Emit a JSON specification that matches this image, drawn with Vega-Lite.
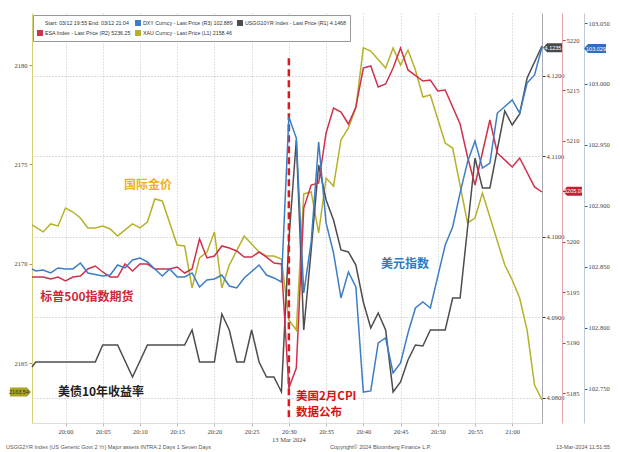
{
  "$schema": "https://vega.github.io/schema/vega-lite/v6.json",
  "width": 510,
  "height": 410,
  "autosize": {"type": "none"},
  "padding": {"left": 32, "top": 13, "right": 78, "bottom": 29},
  "background": "white",
  "config": {
    "view": {"stroke": null},
    "axis": {"labelFont": "Liberation Sans Narrow", "labelFontSize": 6.5, "labelColor": "#444", "title": null}
  },
  "datasets": {
    "xau": [
      {"t": "2024-03-12T19:55:30Z", "v": 2171.95}, {"t": "2024-03-12T19:57:00Z", "v": 2171.60}, {"t": "2024-03-12T19:58:00Z", "v": 2172.00},
      {"t": "2024-03-12T19:59:00Z", "v": 2171.90}, {"t": "2024-03-12T20:00:00Z", "v": 2172.80}, {"t": "2024-03-12T20:01:00Z", "v": 2172.60},
      {"t": "2024-03-12T20:02:00Z", "v": 2172.30}, {"t": "2024-03-12T20:03:00Z", "v": 2171.80}, {"t": "2024-03-12T20:04:00Z", "v": 2171.80},
      {"t": "2024-03-12T20:05:00Z", "v": 2171.90}, {"t": "2024-03-12T20:06:00Z", "v": 2171.75}, {"t": "2024-03-12T20:07:00Z", "v": 2171.39},
      {"t": "2024-03-12T20:08:00Z", "v": 2171.70}, {"t": "2024-03-12T20:09:00Z", "v": 2172.00}, {"t": "2024-03-12T20:10:00Z", "v": 2171.80},
      {"t": "2024-03-12T20:11:00Z", "v": 2172.10}, {"t": "2024-03-12T20:12:00Z", "v": 2173.26}, {"t": "2024-03-12T20:13:00Z", "v": 2173.16},
      {"t": "2024-03-12T20:14:00Z", "v": 2172.05}, {"t": "2024-03-12T20:15:00Z", "v": 2170.94}, {"t": "2024-03-12T20:16:00Z", "v": 2170.89},
      {"t": "2024-03-12T20:17:00Z", "v": 2168.78}, {"t": "2024-03-12T20:18:00Z", "v": 2170.29}, {"t": "2024-03-12T20:19:00Z", "v": 2170.59},
      {"t": "2024-03-12T20:20:00Z", "v": 2171.60}, {"t": "2024-03-12T20:21:00Z", "v": 2168.78}, {"t": "2024-03-12T20:22:00Z", "v": 2169.93},
      {"t": "2024-03-12T20:24:00Z", "v": 2171.39}, {"t": "2024-03-12T20:26:00Z", "v": 2170.59}, {"t": "2024-03-12T20:27:00Z", "v": 2170.39},
      {"t": "2024-03-12T20:28:00Z", "v": 2170.39}, {"t": "2024-03-12T20:29:00Z", "v": 2170.24}, {"t": "2024-03-12T20:30:00Z", "v": 2167.17},
      {"t": "2024-03-12T20:31:00Z", "v": 2166.66}, {"t": "2024-03-12T20:32:00Z", "v": 2173.51}, {"t": "2024-03-12T20:33:00Z", "v": 2173.61},
      {"t": "2024-03-12T20:34:00Z", "v": 2171.55}, {"t": "2024-03-12T20:35:00Z", "v": 2174.31}, {"t": "2024-03-12T20:36:00Z", "v": 2173.91},
      {"t": "2024-03-12T20:37:00Z", "v": 2176.23}, {"t": "2024-03-12T20:38:00Z", "v": 2176.83}, {"t": "2024-03-12T20:39:00Z", "v": 2177.84},
      {"t": "2024-03-12T20:40:00Z", "v": 2180.86}, {"t": "2024-03-12T20:41:00Z", "v": 2180.70}, {"t": "2024-03-12T20:43:00Z", "v": 2179.85},
      {"t": "2024-03-12T20:44:00Z", "v": 2180.86}, {"t": "2024-03-12T20:45:00Z", "v": 2180.00}, {"t": "2024-03-12T20:46:00Z", "v": 2180.75},
      {"t": "2024-03-12T20:47:00Z", "v": 2179.75}, {"t": "2024-03-12T20:48:00Z", "v": 2178.39}, {"t": "2024-03-12T20:49:00Z", "v": 2178.49},
      {"t": "2024-03-12T20:51:00Z", "v": 2176.07}, {"t": "2024-03-12T20:52:00Z", "v": 2175.82}, {"t": "2024-03-12T20:54:00Z", "v": 2172.05},
      {"t": "2024-03-12T20:55:00Z", "v": 2172.30}, {"t": "2024-03-12T20:56:00Z", "v": 2173.56}, {"t": "2024-03-12T20:57:00Z", "v": 2172.35},
      {"t": "2024-03-12T20:59:00Z", "v": 2169.93}, {"t": "2024-03-12T21:00:00Z", "v": 2169.18}, {"t": "2024-03-12T21:01:00Z", "v": 2168.27},
      {"t": "2024-03-12T21:02:00Z", "v": 2166.66}, {"t": "2024-03-12T21:03:00Z", "v": 2163.89}, {"t": "2024-03-12T21:04:00Z", "v": 2163.14}
    ],
    "dxy": [
      {"t": "2024-03-12T19:55:30Z", "v": 102.8484}, {"t": "2024-03-12T19:56:00Z", "v": 102.8467}, {"t": "2024-03-12T19:57:00Z", "v": 102.8475},
      {"t": "2024-03-12T19:58:00Z", "v": 102.8451}, {"t": "2024-03-12T19:59:00Z", "v": 102.8492}, {"t": "2024-03-12T20:00:00Z", "v": 102.8484},
      {"t": "2024-03-12T20:01:00Z", "v": 102.8484}, {"t": "2024-03-12T20:02:00Z", "v": 102.8533}, {"t": "2024-03-12T20:03:00Z", "v": 102.8451},
      {"t": "2024-03-12T20:05:00Z", "v": 102.8426}, {"t": "2024-03-12T20:06:00Z", "v": 102.8434}, {"t": "2024-03-12T20:07:00Z", "v": 102.8516},
      {"t": "2024-03-12T20:08:00Z", "v": 102.8492}, {"t": "2024-03-12T20:09:00Z", "v": 102.8557}, {"t": "2024-03-12T20:10:00Z", "v": 102.8574},
      {"t": "2024-03-12T20:11:00Z", "v": 102.8541}, {"t": "2024-03-12T20:12:00Z", "v": 102.8484}, {"t": "2024-03-12T20:13:00Z", "v": 102.8426},
      {"t": "2024-03-12T20:14:00Z", "v": 102.8484}, {"t": "2024-03-12T20:15:00Z", "v": 102.8418}, {"t": "2024-03-12T20:16:00Z", "v": 102.8418},
      {"t": "2024-03-12T20:17:00Z", "v": 102.8451}, {"t": "2024-03-12T20:18:00Z", "v": 102.8336}, {"t": "2024-03-12T20:19:00Z", "v": 102.8393},
      {"t": "2024-03-12T20:20:00Z", "v": 102.8402}, {"t": "2024-03-12T20:21:00Z", "v": 102.8434}, {"t": "2024-03-12T20:22:00Z", "v": 102.8344},
      {"t": "2024-03-12T20:23:00Z", "v": 102.8328}, {"t": "2024-03-12T20:24:00Z", "v": 102.8410}, {"t": "2024-03-12T20:26:00Z", "v": 102.8516},
      {"t": "2024-03-12T20:27:00Z", "v": 102.8434}, {"t": "2024-03-12T20:28:00Z", "v": 102.8410}, {"t": "2024-03-12T20:29:00Z", "v": 102.8377},
      {"t": "2024-03-12T20:30:00Z", "v": 102.9730}, {"t": "2024-03-12T20:31:00Z", "v": 102.9557}, {"t": "2024-03-12T20:32:00Z", "v": 102.8287},
      {"t": "2024-03-12T20:33:00Z", "v": 102.8705}, {"t": "2024-03-12T20:34:00Z", "v": 102.9525}, {"t": "2024-03-12T20:35:00Z", "v": 102.8861},
      {"t": "2024-03-12T20:36:00Z", "v": 102.8615}, {"t": "2024-03-12T20:37:00Z", "v": 102.8246}, {"t": "2024-03-12T20:38:00Z", "v": 102.8459},
      {"t": "2024-03-12T20:39:00Z", "v": 102.8336}, {"t": "2024-03-12T20:40:00Z", "v": 102.7475}, {"t": "2024-03-12T20:41:00Z", "v": 102.7484},
      {"t": "2024-03-12T20:42:00Z", "v": 102.7877}, {"t": "2024-03-12T20:43:00Z", "v": 102.7918}, {"t": "2024-03-12T20:44:00Z", "v": 102.7631},
      {"t": "2024-03-12T20:45:00Z", "v": 102.7713}, {"t": "2024-03-12T20:46:00Z", "v": 102.7959}, {"t": "2024-03-12T20:47:00Z", "v": 102.8164},
      {"t": "2024-03-12T20:48:00Z", "v": 102.8213}, {"t": "2024-03-12T20:49:00Z", "v": 102.8164}, {"t": "2024-03-12T20:51:00Z", "v": 102.8680},
      {"t": "2024-03-12T20:52:00Z", "v": 102.8828}, {"t": "2024-03-12T20:53:00Z", "v": 102.9107}, {"t": "2024-03-12T20:54:00Z", "v": 102.9361},
      {"t": "2024-03-12T20:55:00Z", "v": 102.9533}, {"t": "2024-03-12T20:56:00Z", "v": 102.9311}, {"t": "2024-03-12T20:57:00Z", "v": 102.9352},
      {"t": "2024-03-12T20:58:00Z", "v": 102.9762}, {"t": "2024-03-12T21:00:00Z", "v": 102.9869}, {"t": "2024-03-12T21:01:00Z", "v": 102.9762},
      {"t": "2024-03-12T21:02:00Z", "v": 103.0008}, {"t": "2024-03-12T21:03:00Z", "v": 103.0074}, {"t": "2024-03-12T21:04:00Z", "v": 103.0303}
    ],
    "esa": [
      {"t": "2024-03-12T19:55:30Z", "v": 5196.50}, {"t": "2024-03-12T19:57:00Z", "v": 5196.50}, {"t": "2024-03-12T19:58:00Z", "v": 5196.30},
      {"t": "2024-03-12T19:59:00Z", "v": 5196.50}, {"t": "2024-03-12T20:00:00Z", "v": 5196.11}, {"t": "2024-03-12T20:01:00Z", "v": 5196.50},
      {"t": "2024-03-12T20:02:00Z", "v": 5196.60}, {"t": "2024-03-12T20:03:00Z", "v": 5197.30}, {"t": "2024-03-12T20:04:00Z", "v": 5197.59},
      {"t": "2024-03-12T20:05:00Z", "v": 5197.00}, {"t": "2024-03-12T20:06:00Z", "v": 5196.50}, {"t": "2024-03-12T20:07:00Z", "v": 5196.50},
      {"t": "2024-03-12T20:08:00Z", "v": 5197.79}, {"t": "2024-03-12T20:09:00Z", "v": 5197.10}, {"t": "2024-03-12T20:10:00Z", "v": 5197.79},
      {"t": "2024-03-12T20:11:00Z", "v": 5197.79}, {"t": "2024-03-12T20:12:00Z", "v": 5197.30}, {"t": "2024-03-12T20:13:00Z", "v": 5197.30},
      {"t": "2024-03-12T20:14:00Z", "v": 5197.30}, {"t": "2024-03-12T20:15:00Z", "v": 5197.49}, {"t": "2024-03-12T20:16:00Z", "v": 5196.90},
      {"t": "2024-03-12T20:17:00Z", "v": 5197.30}, {"t": "2024-03-12T20:18:00Z", "v": 5200.27}, {"t": "2024-03-12T20:19:00Z", "v": 5198.39},
      {"t": "2024-03-12T20:20:00Z", "v": 5198.58}, {"t": "2024-03-12T20:21:00Z", "v": 5199.58}, {"t": "2024-03-12T20:22:00Z", "v": 5199.38},
      {"t": "2024-03-12T20:23:00Z", "v": 5199.08}, {"t": "2024-03-12T20:24:00Z", "v": 5198.48}, {"t": "2024-03-12T20:25:00Z", "v": 5198.48},
      {"t": "2024-03-12T20:26:00Z", "v": 5198.98}, {"t": "2024-03-12T20:27:00Z", "v": 5198.48}, {"t": "2024-03-12T20:28:00Z", "v": 5197.89},
      {"t": "2024-03-12T20:29:00Z", "v": 5197.79}, {"t": "2024-03-12T20:30:00Z", "v": 5185.50}, {"t": "2024-03-12T20:31:00Z", "v": 5187.48},
      {"t": "2024-03-12T20:32:00Z", "v": 5203.34}, {"t": "2024-03-12T20:33:00Z", "v": 5205.62}, {"t": "2024-03-12T20:34:00Z", "v": 5205.82},
      {"t": "2024-03-12T20:35:00Z", "v": 5210.78}, {"t": "2024-03-12T20:36:00Z", "v": 5213.26}, {"t": "2024-03-12T20:37:00Z", "v": 5212.86},
      {"t": "2024-03-12T20:38:00Z", "v": 5211.67}, {"t": "2024-03-12T20:39:00Z", "v": 5213.36}, {"t": "2024-03-12T20:40:00Z", "v": 5217.22},
      {"t": "2024-03-12T20:41:00Z", "v": 5217.42}, {"t": "2024-03-12T20:42:00Z", "v": 5215.34}, {"t": "2024-03-12T20:43:00Z", "v": 5215.64},
      {"t": "2024-03-12T20:44:00Z", "v": 5217.22}, {"t": "2024-03-12T20:45:00Z", "v": 5219.21}, {"t": "2024-03-12T20:46:00Z", "v": 5217.03},
      {"t": "2024-03-12T20:48:00Z", "v": 5215.93}, {"t": "2024-03-12T20:49:00Z", "v": 5216.03}, {"t": "2024-03-12T20:50:00Z", "v": 5214.94},
      {"t": "2024-03-12T20:51:00Z", "v": 5215.04}, {"t": "2024-03-12T20:53:00Z", "v": 5211.67}, {"t": "2024-03-12T20:54:00Z", "v": 5208.40},
      {"t": "2024-03-12T20:55:00Z", "v": 5205.62}, {"t": "2024-03-12T20:57:00Z", "v": 5212.07}, {"t": "2024-03-12T20:58:00Z", "v": 5208.80},
      {"t": "2024-03-12T21:00:00Z", "v": 5207.41}, {"t": "2024-03-12T21:01:00Z", "v": 5208.30}, {"t": "2024-03-12T21:03:00Z", "v": 5205.43},
      {"t": "2024-03-12T21:04:00Z", "v": 5204.93}
    ],
    "usgg": [
      {"t": "2024-03-12T19:55:30Z", "v": 4.08385}, {"t": "2024-03-12T19:56:00Z", "v": 4.08447}, {"t": "2024-03-12T20:04:00Z", "v": 4.08447},
      {"t": "2024-03-12T20:05:00Z", "v": 4.08658}, {"t": "2024-03-12T20:07:00Z", "v": 4.08658}, {"t": "2024-03-12T20:09:00Z", "v": 4.08261},
      {"t": "2024-03-12T20:11:00Z", "v": 4.08658}, {"t": "2024-03-12T20:16:00Z", "v": 4.08658}, {"t": "2024-03-12T20:17:00Z", "v": 4.08845},
      {"t": "2024-03-12T20:18:00Z", "v": 4.08447}, {"t": "2024-03-12T20:20:00Z", "v": 4.08447}, {"t": "2024-03-12T20:21:00Z", "v": 4.09043},
      {"t": "2024-03-12T20:22:00Z", "v": 4.08845}, {"t": "2024-03-12T20:23:00Z", "v": 4.08447}, {"t": "2024-03-12T20:24:00Z", "v": 4.08447},
      {"t": "2024-03-12T20:25:00Z", "v": 4.08845}, {"t": "2024-03-12T20:26:00Z", "v": 4.08447}, {"t": "2024-03-12T20:27:00Z", "v": 4.08261},
      {"t": "2024-03-12T20:28:00Z", "v": 4.08261}, {"t": "2024-03-12T20:29:00Z", "v": 4.08075}, {"t": "2024-03-12T20:30:00Z", "v": 4.09963},
      {"t": "2024-03-12T20:31:00Z", "v": 4.11205}, {"t": "2024-03-12T20:32:00Z", "v": 4.08845}, {"t": "2024-03-12T20:33:00Z", "v": 4.09839},
      {"t": "2024-03-12T20:34:00Z", "v": 4.10894}, {"t": "2024-03-12T20:35:00Z", "v": 4.10460}, {"t": "2024-03-12T20:36:00Z", "v": 4.10211},
      {"t": "2024-03-12T20:37:00Z", "v": 4.09839}, {"t": "2024-03-12T20:38:00Z", "v": 4.09814}, {"t": "2024-03-12T20:39:00Z", "v": 4.09652},
      {"t": "2024-03-12T20:40:00Z", "v": 4.09193}, {"t": "2024-03-12T20:41:00Z", "v": 4.08870}, {"t": "2024-03-12T20:42:00Z", "v": 4.09056},
      {"t": "2024-03-12T20:43:00Z", "v": 4.08845}, {"t": "2024-03-12T20:44:00Z", "v": 4.08075}, {"t": "2024-03-12T20:45:00Z", "v": 4.08199},
      {"t": "2024-03-12T20:46:00Z", "v": 4.08472}, {"t": "2024-03-12T20:47:00Z", "v": 4.08658}, {"t": "2024-03-12T20:48:00Z", "v": 4.08646},
      {"t": "2024-03-12T20:49:00Z", "v": 4.08845}, {"t": "2024-03-12T20:51:00Z", "v": 4.08845}, {"t": "2024-03-12T20:52:00Z", "v": 4.09242},
      {"t": "2024-03-12T20:53:00Z", "v": 4.09242}, {"t": "2024-03-12T20:54:00Z", "v": 4.10112}, {"t": "2024-03-12T20:55:00Z", "v": 4.10981},
      {"t": "2024-03-12T20:56:00Z", "v": 4.10609}, {"t": "2024-03-12T20:57:00Z", "v": 4.10609}, {"t": "2024-03-12T20:59:00Z", "v": 4.11565},
      {"t": "2024-03-12T21:00:00Z", "v": 4.11391}, {"t": "2024-03-12T21:01:00Z", "v": 4.11528}, {"t": "2024-03-12T21:02:00Z", "v": 4.11975},
      {"t": "2024-03-12T21:04:00Z", "v": 4.12373}
    ]
  },
  "encoding": {
    "x": {
      "field": "t", "type": "temporal",
      "scale": {"type": "utc", "nice": false, "domain": [1710273330000, 1710277440000]},
      "axis": {
        "title": null, "format": "%H:%M",
        "values": [1710273600000, 1710273900000, 1710274200000, 1710274500000, 1710274800000, 1710275100000, 1710275400000, 1710275700000, 1710276000000, 1710276300000, 1710276600000, 1710276900000, 1710277200000],
        "grid": true, "gridColor": "#c4c4c4", "gridDash": [1, 2], "domainColor": "#dddddd",
        "tickColor": "#bbbbbb", "tickSize": 3, "labelPadding": 2, "labelFontSize": 6.5
      }
    }
  },
  "layer": [
    {
      "encoding": {"y": {"field": "v", "type": "quantitative",
        "scale": {"domain": [2161.983, 2182.617], "nice": false, "zero": false},
        "axis": {"orient": "left", "title": null, "grid": false, "format": "d",
          "values": [2165, 2170, 2175, 2180], "tickSize": 3,
          "tickColor": "#a8a030", "domainColor": "#d4cf7a", "labelPadding": 2}}},
      "layer": [
        {"data": {"name": "xau"}, "mark": {"type": "line", "strokeWidth": 1.5},
         "encoding": {"color": {"datum": "XAU", "type": "nominal",
           "scale": {"domain": ["Start", "ESA", "DXY", "XAU", "USGG10YR"], "range": ["rgba(255,255,255,0)", "#d0304c", "#3d7dc4", "#b5b22a", "#4d4d4d"]},
           "legend": {"orient": "none", "legendX": 1, "legendY": 2, "columns": 3, "title": null, "symbolType": "square", "symbolSize": 6, "symbolStrokeWidth": 3.5,
             "labelFontSize": 5.3, "labelFont": "Liberation Sans", "labelColor": "#333", "labelLimit": 300, "labelBaseline": "middle",
             "fillColor": "white", "strokeColor": "#999999", "padding": 4, "columnPadding": 4, "rowPadding": 2, "labelOffset": 2, "clipHeight": 8,
             "labelExpr": "datum.label == 'Start' ? 'Start: 03/12 19:55 End: 03/12 21:04' : datum.label == 'DXY' ? 'DXY Curncy - Last Price (R3) 102.889' : datum.label == 'USGG10YR' ? 'USGG10YR Index - Last Price (R1) 4.1468' : datum.label == 'ESA' ? 'ESA Index - Last Price (R2) 5236.25' : 'XAU Curncy - Last Price (L1) 2158.46'"}}}},
        {"data": {"values": [{"t": "2024-03-12T20:11:05Z", "v": 2173.96, "label": "国际金价"}]},
         "mark": {"type": "text", "font": "Noto Sans CJK SC", "fontWeight": "bold", "fontSize": 12, "color": "#f0b020", "align": "center", "baseline": "middle"},
         "encoding": {"text": {"field": "label"}}},
        {"data": {"values": [{"t": "2024-03-12T19:55:30Z", "v": 2163.54, "label": "2163.54"}]},
         "mark": {"type": "point", "shape": "M-0.1,0L-0.5,-0.45L-2.2,-0.45L-2.2,0.45L-0.5,0.45Z", "size": 400, "filled": true, "opacity": 1, "color": "#a8a420", "strokeWidth": 0}},
        {"data": {"values": [{"t": "2024-03-12T19:55:30Z", "v": 2163.54, "label": "2163.54"}]},
         "mark": {"type": "text", "dx": -13, "align": "center", "baseline": "middle", "fontSize": 5.5, "color": "#333333"},
         "encoding": {"text": {"field": "label"}}}
      ]
    },
    {
      "encoding": {"y": {"field": "v", "type": "quantitative",
        "scale": {"domain": [4.076894, 4.127826], "nice": false, "zero": false},
        "axis": {"orient": "right", "title": null, "format": ".4f",
          "values": [4.08, 4.09, 4.1, 4.11, 4.12], "tickSize": 3,
          "grid": true, "gridColor": "#b8b8b8", "gridDash": [1, 2],
          "tickColor": "#333333", "domainColor": "#a8a8b0", "labelPadding": 1}}},
      "layer": [
        {"data": {"name": "usgg"}, "mark": {"type": "line", "strokeWidth": 1.5},
         "encoding": {"color": {"datum": "USGG10YR", "type": "nominal"}}},
        {"data": {"values": [{"t": "2024-03-12T20:30:00Z", "v": 4.1222, "v2": 4.0772}]},
         "mark": {"type": "rule", "color": "#e01a1a", "strokeWidth": 2.5, "strokeDash": [7, 4]},
         "encoding": {"y2": {"field": "v2"}}},
        {"data": {"values": [{"t": "2024-03-12T20:04:46Z", "v": 4.08075, "label": "美债10年收益率"}]},
         "mark": {"type": "text", "font": "Noto Sans CJK SC", "fontWeight": "bold", "fontSize": 12, "color": "#222222", "align": "center", "baseline": "middle"},
         "encoding": {"text": {"field": "label"}}},
        {"data": {"values": [
           {"t": "2024-03-12T19:52:01Z", "v": 4.07391, "label": "USGG2YR Index (US Generic Govt 2 Yr) Major assets INTRA 2 Days 1 Seven Days"},
           {"t": "2024-03-12T20:35:32Z", "v": 4.07391, "label": "Copyright© 2024 Bloomberg Finance L.P."},
           {"t": "2024-03-12T21:05:53Z", "v": 4.07391, "label": "13-Mar-2024 11:51:55"}]},
         "mark": {"type": "text", "align": "left", "baseline": "middle", "fontSize": 5.5, "color": "#555555"},
         "encoding": {"text": {"field": "label"}}},
        {"data": {"values": [{"t": "2024-03-12T20:30:00Z", "v": 4.07478, "label": "13 Mar 2024"}]},
         "mark": {"type": "text", "font": "Liberation Sans Narrow", "align": "center", "baseline": "middle", "fontSize": 6.5, "color": "#444444"},
         "encoding": {"text": {"field": "label"}}},
        {"data": {"values": [{"t": "2024-03-12T21:04:00Z", "v": 4.1235, "label": "4.1235"}]},
         "mark": {"type": "point", "shape": "M0.1,0L0.5,-0.45L2,-0.45L2,0.45L0.5,0.45Z", "size": 400, "filled": true, "opacity": 1, "color": "#4a4a4a", "strokeWidth": 0}},
        {"data": {"values": [{"t": "2024-03-12T21:04:00Z", "v": 4.1235, "label": "4.1235"}]},
         "mark": {"type": "text", "dx": 11, "align": "center", "baseline": "middle", "fontSize": 5.5, "color": "white"},
         "encoding": {"text": {"field": "label"}}}
      ]
    },
    {
      "encoding": {"y": {"field": "v", "type": "quantitative",
        "scale": {"domain": [5182.027, 5222.677], "nice": false, "zero": false},
        "axis": {"orient": "right", "offset": 20, "title": null, "grid": false, "format": "d",
          "values": [5185, 5190, 5195, 5200, 5205, 5210, 5215, 5220], "tickSize": 3,
          "labelExpr": "datum.value == 5205 ? '' : datum.label",
          "tickColor": "#d03040", "domainColor": "#e6a6b0", "labelPadding": 1}}},
      "layer": [
        {"data": {"name": "esa"}, "mark": {"type": "line", "strokeWidth": 1.5},
         "encoding": {"color": {"datum": "ESA", "type": "nominal"}}},
        {"data": {"values": [
           {"t": "2024-03-12T20:02:53Z", "v": 5194.52, "label": "标普500指数期货"}]},
         "mark": {"type": "text", "font": "Noto Sans CJK SC", "fontWeight": "bold", "fontSize": 12, "color": "#d0283a", "align": "center", "baseline": "middle"},
         "encoding": {"text": {"field": "label"}}},
        {"data": {"values": [
           {"t": "2024-03-12T20:30:58Z", "v": 5184.6, "label": "美国2月CPI"},
           {"t": "2024-03-12T20:30:58Z", "v": 5183.0, "label": "数据公布"}]},
         "mark": {"type": "text", "font": "Noto Sans CJK SC", "fontWeight": "bold", "fontSize": 11.5, "color": "#e01010", "align": "left", "baseline": "middle"},
         "encoding": {"text": {"field": "label"}}},
        {"data": {"values": [{"t": "2024-03-12T21:04:00Z", "v": 5205.0, "label": "5205.00"}]},
         "mark": {"type": "point", "shape": "M2.1,0L2.5,-0.45L4,-0.45L4,0.45L2.5,0.45Z", "size": 400, "filled": true, "opacity": 1, "color": "#c42034", "strokeWidth": 0}},
        {"data": {"values": [{"t": "2024-03-12T21:04:00Z", "v": 5205.0, "label": "5205.00"}]},
         "mark": {"type": "text", "dx": 32, "align": "center", "baseline": "middle", "fontSize": 5.5, "color": "white"},
         "encoding": {"text": {"field": "label"}}}
      ]
    },
    {
      "encoding": {"y": {"field": "v", "type": "quantitative",
        "scale": {"domain": [102.7221, 103.0582], "nice": false, "zero": false},
        "axis": {"orient": "right", "offset": 42, "title": null, "grid": false, "format": ".3f",
          "values": [102.75, 102.8, 102.85, 102.9, 102.95, 103.0, 103.05], "tickSize": 3,
          "tickColor": "#3a5a80", "domainColor": "#bccbdc", "labelPadding": 1}}},
      "layer": [
        {"data": {"name": "dxy"}, "mark": {"type": "line", "strokeWidth": 1.5},
         "encoding": {"color": {"datum": "DXY", "type": "nominal"}}},
        {"data": {"values": [{"t": "2024-03-12T20:45:36Z", "v": 102.8525, "label": "美元指数"}]},
         "mark": {"type": "text", "font": "Noto Sans CJK SC", "fontWeight": "bold", "fontSize": 12, "color": "#2a7cc6", "align": "center", "baseline": "middle"},
         "encoding": {"text": {"field": "label"}}},
        {"data": {"values": [{"t": "2024-03-12T21:04:00Z", "v": 103.029, "label": "103.029"}]},
         "mark": {"type": "point", "shape": "M4.2,0L4.6,-0.45L6.4,-0.45L6.4,0.45L4.6,0.45Z", "size": 400, "filled": true, "opacity": 1, "color": "#2f6fbf", "strokeWidth": 0}},
        {"data": {"values": [{"t": "2024-03-12T21:04:00Z", "v": 103.029, "label": "103.029"}]},
         "mark": {"type": "text", "dx": 54, "align": "center", "baseline": "middle", "fontSize": 5.5, "color": "white"},
         "encoding": {"text": {"field": "label"}}}
      ]
    }
  ],
  "resolve": {"scale": {"y": "independent"}}
}
